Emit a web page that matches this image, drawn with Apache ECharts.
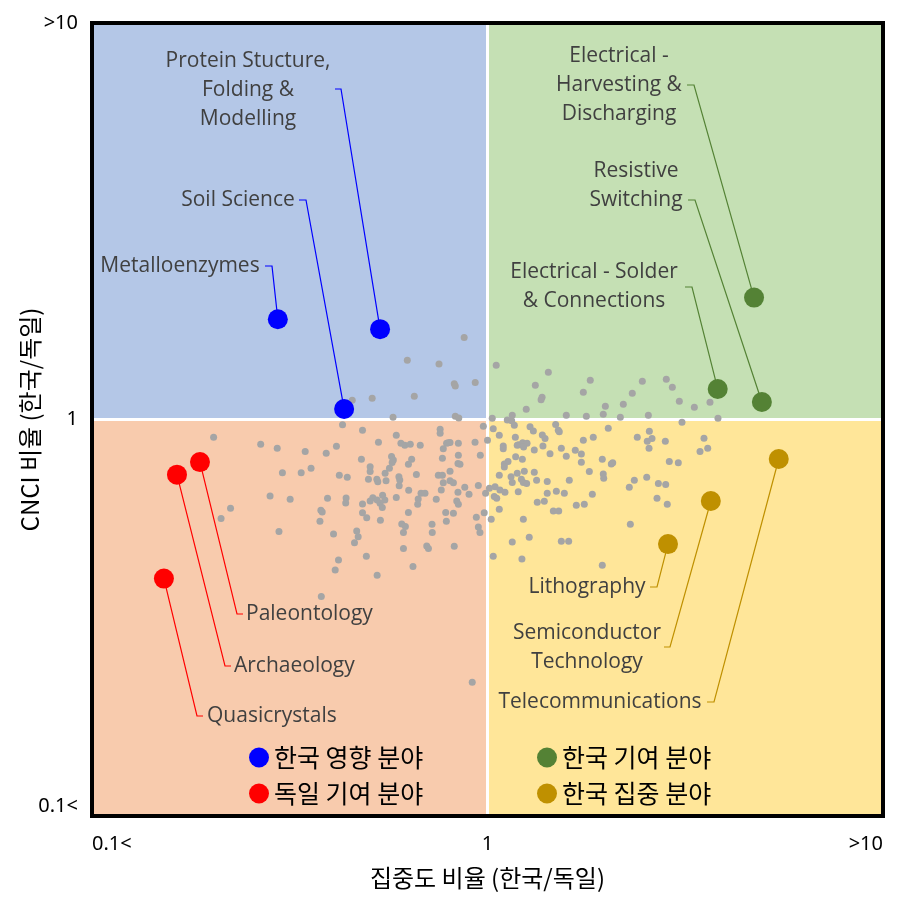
<!DOCTYPE html>
<html>
<head>
<meta charset="utf-8">
<title>집중도 비율 / CNCI 비율 (한국/독일)</title>
<script src="https://cdn.jsdelivr.net/npm/echarts@6/dist/echarts.min.js"></script>
<style>
  html, body { margin: 0; padding: 0; background: #fff; }
  #chart { width: 908px; height: 908px; }
</style>
</head>
<body>
<div id="chart"></div>
<script>
// 축 눈금 (0.1, 1, 10)
const tickLabels = ['0.1<', '1', '>10']

// 강조 분야 그룹
const groupNames = ['한국 영향 분야', '독일 기여 분야', '한국 기여 분야', '한국 집중 분야']
const groupColors = ['#0000FF', '#FF0000', '#548235', '#BF9000']

const impactFields = ['Metalloenzymes', 'Protein Stucture,\nFolding &\nModelling', 'Soil Science']
const impactX = [0.295, 0.535, 0.434]
const impactY = [1.79, 1.69, 1.063]

const germanFields = ['Paleontology', 'Archaeology', 'Quasicrystals']
const germanX = [0.1875, 0.164, 0.152]
const germanY = [0.781, 0.726, 0.397]

const contribFields = ['Electrical -\nHarvesting &\nDischarging', 'Resistive\nSwitching', 'Electrical - Solder\n& Connections']
const contribX = [4.72, 4.94, 3.82]
const contribY = [2.03, 1.107, 1.194]

const focusFields = ['Lithography', 'Semiconductor\nTechnology', 'Telecommunications']
const focusX = [2.86, 3.67, 5.45]
const focusY = [0.485, 0.623, 0.795]

// 기타 분야 (회색 점): [집중도 비율, CNCI 비율]
const otherFields = [
  [0.873,1.61],[0.627,1.41],[0.754,1.38],[0.824,1.23],[0.829,1.215],[0.931,1.24],[0.653,1.144],[0.511,1.131],[0.455,1.118],[0.829,1.019],[0.846,1.009],[0.577,1.013],
  [1.052,1.37],[1.425,1.315],[1.321,1.22],[1.374,1.138],[1.366,1.122],[1.253,1.061],[1.819,1.256],[1.747,1.171],[1.986,1.08],[1.962,1.031],[1.778,1.019],[1.582,1.025],
  [2.167,1.013],[2.205,1.092],[2.323,1.164],[2.463,1.248],[2.832,1.263],[2.933,1.206],[3.055,1.111],[3.334,1.073],[3.652,1.105],[2.551,1.025],[1.028,1.007],[1.155,1.025],
  [1.122,0.997],[1.151,0.993],[3.826,1.007],
  [0.203,0.902],[0.267,0.866],[0.294,0.846],[0.346,0.831],[0.391,0.822],[0.415,0.856],[0.430,0.970],[0.483,0.939],[0.530,0.876],[0.588,0.912],
  [0.604,0.871],[0.618,0.861],[0.638,0.866],[0.676,0.861],[0.759,0.945],[0.759,0.923],[0.796,0.874],[0.788,0.871],[0.804,0.875],[0.844,0.871],
  [0.930,0.876],[0.976,0.961],[0.773,0.844],[0.959,0.812],[0.844,0.812],[0.769,0.798],[0.572,0.807],[0.578,0.790],[0.574,0.779],[0.643,0.794],
  [0.631,0.771],[0.842,0.775],[0.852,0.771],[0.480,0.794],[0.505,0.760],[0.505,0.739],[0.565,0.753],[0.551,0.732],[0.525,0.707],[0.528,0.697],
  [0.500,0.707],[0.554,0.701],[0.597,0.717],[0.600,0.704],[0.422,0.723],[0.442,0.715],[0.358,0.753],[0.338,0.734],[0.303,0.734],[0.661,0.727],
  [0.751,0.723],[0.769,0.723],[0.804,0.740],[0.773,0.693],[0.804,0.701],[0.820,0.693],[0.876,0.675],[0.948,0.682],[0.989,0.652],[0.598,0.681],
  [0.632,0.663],[0.679,0.652],[0.695,0.652],[0.668,0.630],[0.666,0.611],[0.764,0.664],[0.742,0.629],[0.842,0.655],[0.898,0.648],[0.836,0.623],
  [0.844,0.611],[0.588,0.636],[0.543,0.644],[0.550,0.627],[0.513,0.635],[0.505,0.623],[0.535,0.615],[0.542,0.600],[0.483,0.612],[0.439,0.634],
  [0.438,0.616],[0.394,0.633],[0.317,0.629],[0.282,0.641],[0.224,0.597],[0.212,0.563],[0.379,0.590],[0.382,0.584],[0.377,0.554],[0.483,0.582],
  [0.495,0.565],[0.536,0.557],[0.631,0.583],[0.784,0.583],[0.820,0.580],[0.787,0.554],[0.724,0.544],[0.725,0.519],[0.607,0.545],[0.620,0.537],
  [0.613,0.519],[0.937,0.567],[0.948,0.536],[0.957,0.519],[0.981,0.582],[0.297,0.522],[0.408,0.514],[0.467,0.523],[0.471,0.506],[0.461,0.489],
  [0.613,0.473],[0.702,0.480],[0.709,0.473],[0.824,0.479],[0.494,0.452],[0.420,0.442],[0.412,0.417],[0.648,0.426],[0.526,0.405],[0.380,0.358],
  [0.915,0.2175],[0.526,0.627],
  [1.034,0.948],[1.0,0.886],[1.071,0.912],[1.169,0.967],[1.176,0.902],[1.281,0.959],[1.306,0.935],[1.487,0.972],[1.510,0.939],[1.519,0.932],
  [1.376,0.914],[1.398,0.895],[1.381,0.857],[1.199,0.864],[1.227,0.874],[1.259,0.871],[1.234,0.852],[1.189,0.861],[1.096,0.857],[1.096,0.844],
  [1.313,0.838],[1.178,0.806],[1.225,0.794],[1.127,0.783],[1.103,0.772],[1.103,0.759],[1.071,0.723],[1.147,0.717],[1.155,0.694],[1.189,0.732],
  [1.239,0.740],[1.218,0.707],[1.232,0.694],[1.256,0.690],[1.313,0.736],[1.331,0.703],[1.416,0.698],[1.439,0.820],[1.537,0.846],[1.582,0.808],
  [1.667,0.836],[1.727,0.819],[1.727,0.780],[1.747,0.886],[1.851,0.902],[2.020,0.950],[1.951,0.794],[2.056,0.772],[2.073,0.778],[1.809,0.739],
  [1.962,0.729],[1.967,0.711],[1.610,0.703],[1.493,0.659],[1.564,0.652],[1.416,0.652],[1.336,0.618],[1.392,0.622],[1.011,0.671],[1.045,0.677],
  [1.075,0.664],[1.107,0.655],[1.040,0.639],[1.055,0.633],[1.196,0.657],[1.022,0.560],[1.071,0.594],[1.232,0.560],[1.155,0.491],[1.275,0.505],
  [1.467,0.588],[1.514,0.588],[1.677,0.608],[1.757,0.611],[1.841,0.648],[1.034,0.452],[1.222,0.445],[1.537,0.493],[1.604,0.493],[1.951,0.429],
  [2.283,0.675],[2.351,0.703],[2.527,0.715],[2.704,0.690],[2.822,0.686],[2.683,0.633],[2.848,0.611],[2.297,0.544],[2.392,0.902],[2.535,0.881],
  [2.606,0.895],[2.566,0.934],[2.561,0.846],[2.816,0.881],[2.882,0.783],[3.037,0.778],[3.103,0.984],[3.527,0.897],[3.446,0.831],[3.604,0.846]
]

// 설명 글 위치 (픽셀): [그룹, 번호, 글 x, 글 y, 정렬, 지시선 x1, x2, y]
const calloutLayout = [
  [0, 0, 180, 266, 'center', 265, 272, 266],
  [0, 1, 248, 90, 'center', 335, 341, 89],
  [0, 2, 238, 200, 'center', 299, 306, 200],
  [1, 0, 246, 614, 'left', 243, 237, 614],
  [1, 1, 234, 666, 'left', 231, 225, 666],
  [1, 2, 207, 716, 'left', 203, 197, 716],
  [2, 0, 619, 85, 'center', 687, 694, 85],
  [2, 1, 636, 186, 'center', 688, 695, 200],
  [2, 2, 594, 287, 'center', 685, 692, 287],
  [3, 0, 587, 587, 'center', 650, 657, 587],
  [3, 1, 587, 648, 'center', 664, 670, 647],
  [3, 2, 600, 702, 'center', 707, 714, 702]
]

const groups = [
  [impactX, impactY, impactFields],
  [germanX, germanY, germanFields],
  [contribX, contribY, contribFields],
  [focusX, focusY, focusFields]
]

const quadrantColors = ['#B4C7E7', '#C5E0B4', '#F8CBAD', '#FFE699']

const chart = echarts.init(document.getElementById('chart'))

const tickFormatter = (v) => tickLabels[Math.round(Math.log10(v)) + 1] || ''

const legendBase = {
  orient: 'vertical', itemGap: 11,
  icon: 'circle', itemWidth: 20, itemHeight: 20,
  textStyle: { fontFamily: 'Noto Sans CJK KR', fontSize: 25, color: '#000' },
  selectedMode: false
}

const option = {
  backgroundColor: '#fff',
  animation: false,
  grid: { left: 92, top: 23, width: 791, height: 793, show: false, containLabel: false, outerBoundsMode: 'none' },
  xAxis: {
    type: 'log',
    logBase: 10,
    min: 0.1,
    max: 10,
    name: '집중도 비율 (한국/독일)',
    nameLocation: 'middle',
    nameGap: 50,
    nameMoveOverlap: false,
    nameTextStyle: { fontFamily: 'Noto Sans CJK KR', fontSize: 24, color: '#000' },
    axisLine: { show: false },
    axisTick: { show: false },
    splitLine: { show: false },
    axisLabel: {
      formatter: tickFormatter,
      margin: 18,
      fontFamily: 'Noto Sans',
      fontSize: 20,
      color: '#000',
      alignMinLabel: 'left',
      alignMaxLabel: 'right'
    }
  },
  yAxis: {
    type: 'log',
    logBase: 10,
    min: 0.1,
    max: 10,
    name: 'CNCI 비율 (한국/독일)',
    nameLocation: 'middle',
    nameRotate: 90,
    nameGap: 50,
    nameMoveOverlap: false,
    nameTextStyle: { fontFamily: 'Noto Sans CJK KR', fontSize: 24, color: '#000' },
    axisLine: { show: false },
    axisTick: { show: false },
    splitLine: { show: false },
    axisLabel: {
      formatter: tickFormatter,
      margin: 14,
      fontFamily: 'Noto Sans',
      fontSize: 20,
      color: '#000',
      verticalAlignMinLabel: 'bottom'
    }
  },
  legend: [
    Object.assign({ left: 244, top: 740, data: [groupNames[0], groupNames[1]] }, legendBase),
    Object.assign({ left: 532, top: 740, data: [groupNames[2], groupNames[3]] }, legendBase)
  ],
  series: [
    {
      // 사분면 배경과 흰 구분선
      type: 'scatter',
      data: [],
      silent: true,
      markArea: {
        silent: true,
        data: [
          [{ xAxis: 0.1, yAxis: 1, itemStyle: { color: quadrantColors[0] } }, { xAxis: 1, yAxis: 10 }],
          [{ xAxis: 1, yAxis: 1, itemStyle: { color: quadrantColors[1] } }, { xAxis: 10, yAxis: 10 }],
          [{ xAxis: 0.1, yAxis: 0.1, itemStyle: { color: quadrantColors[2] } }, { xAxis: 1, yAxis: 1 }],
          [{ xAxis: 1, yAxis: 0.1, itemStyle: { color: quadrantColors[3] } }, { xAxis: 10, yAxis: 1 }]
        ]
      },
      markLine: {
        silent: true,
        z: 2,
        symbol: 'none',
        label: { show: false },
        lineStyle: { color: '#fff', width: 3, type: 'solid' },
        data: [{ xAxis: 1 }, { yAxis: 1 }]
      }
    },
    {
      name: 'others',
      type: 'scatter',
      z: 3,
      symbolSize: 7,
      itemStyle: { color: '#A5A5A5', opacity: 1 },
      data: otherFields
    },
    ...groups.map((g, i) => ({
      name: groupNames[i],
      type: 'scatter',
      z: 6,
      symbolSize: 20,
      itemStyle: { color: groupColors[i], opacity: 1 },
      data: g[0].map((x, k) => [x, g[1][k]])
    }))
  ]
}

chart.setOption(option)

// 설명 글, 지시선, 테두리
const drawCallouts = () => {
  const conv = (p) => chart.convertToPixel({ xAxisIndex: 0, yAxisIndex: 0 }, p)
  const elements = []
  calloutLayout.forEach(([g, i, tx, ty, align, x1, x2, y]) => {
    const [xs, ys, names] = groups[g]
    const p = conv([xs[i], ys[i]])
    elements.push({
      type: 'polyline',
      z: 5,
      silent: true,
      shape: { points: [[x1, y], [x2, y], p] },
      style: { stroke: groupColors[g], lineWidth: 1.2, fill: 'none' }
    })
    elements.push({
      type: 'text',
      z: 8,
      silent: true,
      style: {
        text: names[i],
        x: tx,
        y: ty,
        align: align,
        verticalAlign: 'middle',
        fill: '#404040',
        font: '21px "Open Sans"',
        lineHeight: 29
      }
    })
  })
  const tl = conv([0.1, 10])
  const br = conv([10, 0.1])
  elements.push({
    type: 'rect',
    z: 20,
    silent: true,
    shape: { x: tl[0], y: tl[1], width: br[0] - tl[0], height: br[1] - tl[1] },
    style: { fill: 'none', stroke: '#000', lineWidth: 4 }
  })
  chart.setOption({ graphic: elements })
}

drawCallouts()
</script>
</body>
</html>
